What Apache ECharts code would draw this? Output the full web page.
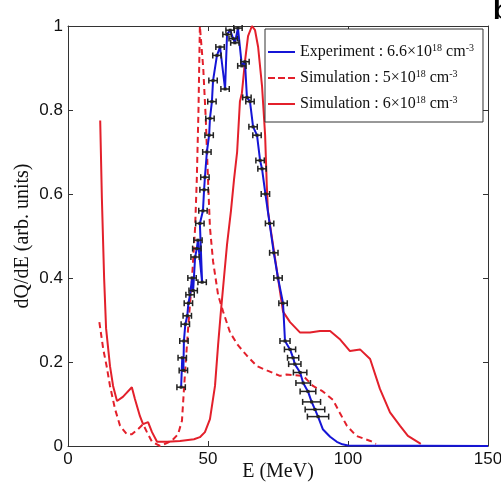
<!DOCTYPE html>
<html><head><meta charset="utf-8">
<script src="https://cdn.jsdelivr.net/npm/echarts@6/dist/echarts.min.js"></script>
<style>html,body{margin:0;padding:0;background:#fff}#c{width:501px;height:491px}</style>
</head><body><div id="c"></div>
<script>
// Experiment (blue line with horizontal error bars)
const expX = [40.4,40.8,41.2,41.4,41.9,42.6,43.0,43.6,44.3,44.7,45.4,46.0,46.4,47.9,47.1,48.2,48.6,48.9,49.6,50.4,50.7,51.4,51.8,53.2,54.3,56.1,56.8,57.9,59.0,59.6,60.7,62.1,63.2,63.9,65.0,66.1,67.5,68.6,69.3,70.5,72.0,73.5,75.0,76.8,77.5,79.3,80.4,81.0,82.9,84.0,85.7,87.0,88.2,89.3];
const expY = [0.14,0.21,0.18,0.25,0.29,0.31,0.34,0.36,0.40,0.37,0.45,0.47,0.49,0.39,0.53,0.56,0.61,0.64,0.70,0.74,0.78,0.82,0.87,0.93,0.95,0.85,0.98,0.99,0.97,0.96,0.995,0.905,0.915,0.83,0.82,0.76,0.74,0.68,0.66,0.60,0.53,0.46,0.40,0.34,0.25,0.23,0.21,0.195,0.175,0.15,0.13,0.105,0.087,0.07];
const expErr = [1.5,1.5,1.5,1.5,1.5,1.5,1.5,1.5,1.5,1.5,1.5,1.5,1.5,1.5,1.5,1.5,1.5,1.5,1.5,1.5,1.5,1.5,1.5,1.5,1.5,1.5,1.5,1.5,1.5,1.5,1.5,1.5,1.5,1.5,1.5,1.5,1.5,1.5,1.5,1.5,1.5,1.5,1.5,1.5,1.8,2.0,2.0,2.2,2.4,2.6,2.8,3.2,3.5,3.8];
// blue line tail beyond the last error bar
const expTailX = [91.0,93.6,96.0,98.0,100.0,150.0];
const expTailY = [0.04,0.022,0.01,0.004,0.001,0.0];

// Simulation 5e18 (red dashed)
const sim5X = [11.2,12.6,13.8,15.0,16.8,18.6,21.0,22.8,25.0,26.8,28.2,30.0,32.9,37.0,39.3,40.7,41.8,42.9,44.3,45.4,46.0,46.6,47.1,47.6,48.3,49.2,50.0,50.7,51.8,53.6,55.4,57.9,60.7,63.9,67.5,71.0,75.7,78.0,84.0,87.5,91.0,94.6,97.0,99.6,103.0,108.0,110.0];
const sim5Y = [0.295,0.23,0.19,0.143,0.088,0.048,0.028,0.028,0.04,0.052,0.033,0.01,0.0,0.012,0.028,0.06,0.175,0.28,0.40,0.52,0.635,0.80,1.0,1.0,0.90,0.78,0.635,0.52,0.44,0.36,0.32,0.27,0.24,0.215,0.19,0.18,0.167,0.17,0.167,0.143,0.13,0.11,0.08,0.048,0.024,0.012,0.005];

// Simulation 6e18 (red solid)
const sim6X = [11.5,12.1,12.9,13.6,15.0,16.1,17.5,19.6,22.8,23.9,25.7,26.8,28.6,30.0,31.8,35.4,40.0,45.0,47.1,48.9,50.7,52.5,53.6,54.6,55.7,56.8,58.2,59.3,60.4,61.4,62.1,63.2,64.3,65.7,66.8,67.9,69.3,70.4,71.0,71.4,73.2,75.0,76.8,79.3,82.9,86.4,90.0,93.6,97.0,100.7,104.3,107.9,111.4,115.0,118.6,121.4,126.0];
const sim6Y = [0.775,0.59,0.40,0.28,0.19,0.143,0.107,0.117,0.14,0.112,0.071,0.052,0.057,0.033,0.01,0.01,0.012,0.016,0.021,0.033,0.064,0.143,0.24,0.32,0.40,0.48,0.56,0.635,0.70,0.82,0.84,0.915,0.976,1.0,0.99,0.95,0.857,0.74,0.62,0.56,0.48,0.40,0.32,0.295,0.27,0.27,0.274,0.274,0.255,0.226,0.23,0.207,0.136,0.08,0.048,0.024,0.005];

const xTicks = [0,50,100,150];
const yTicks = [0,0.2,0.4,0.6,0.8,1];

const zip = (a,b)=>a.map((v,i)=>[v,b[i]]);
const chart = echarts.init(document.getElementById('c'), null, {renderer:'canvas'});
const axisCol = '#333';
const sans = '"Liberation Sans", Arial, sans-serif';
const serif = '"Liberation Serif", "Times New Roman", serif';
const rich = {
  t:{fontFamily:serif,fontSize:16,color:'#111'},
  s:{fontFamily:serif,fontSize:10,color:'#111',verticalAlign:'top',padding:[0,0,8,0]}
};
const legendText = {
  exp:'{t|Experiment : 6.6×10}{s|18}{t| cm}{s|-3}',
  sim5:'{t|Simulation : 5×10}{s|18}{t| cm}{s|-3}',
  sim6:'{t|Simulation : 6×10}{s|18}{t| cm}{s|-3}'
};
const RED = '#e3202b', BLUE = '#1515d6';
const frameAxis = {
  axisLine:{show:true,onZero:false,lineStyle:{color:axisCol,width:1}},
  axisTick:{show:true,inside:true,length:5,lineStyle:{color:axisCol}},
  axisLabel:{show:false},splitLine:{show:false}
};
chart.setOption({
  animation:false,
  backgroundColor:'#fff',
  grid:{left:68,right:13,top:26,bottom:45,containLabel:false,outerBoundsMode:'none'},
  xAxis:[{
    type:'value',min:xTicks[0],max:xTicks[xTicks.length-1],interval:50,
    name:'E (MeV)',nameLocation:'middle',nameGap:16,nameMoveOverlap:false,
    nameTextStyle:{fontFamily:serif,fontSize:20,color:'#111'},
    axisLine:{show:true,onZero:false,lineStyle:{color:axisCol,width:1}},
    axisTick:{show:true,inside:true,length:5,lineStyle:{color:axisCol}},
    axisLabel:{fontFamily:sans,fontSize:17,color:'#111',margin:5},
    splitLine:{show:false}
  },Object.assign({type:'value',position:'top',min:0,max:150,interval:50},frameAxis)],
  yAxis:[{
    type:'value',min:0,max:1,interval:0.2,
    name:'dQ/dE (arb. units)',nameLocation:'middle',nameGap:35,nameMoveOverlap:false,
    nameTextStyle:{fontFamily:serif,fontSize:20,color:'#111'},
    axisLine:{show:true,onZero:false,lineStyle:{color:axisCol,width:1}},
    axisTick:{show:true,inside:true,length:5,lineStyle:{color:axisCol}},
    axisLabel:{fontFamily:sans,fontSize:17,color:'#111',margin:5,
      formatter:v=>String(Math.round(v*10)/10)},
    splitLine:{show:false}
  },Object.assign({type:'value',position:'right',min:0,max:1,interval:0.2},frameAxis)],
  legend:{
    orient:'vertical',left:265,top:29,
    backgroundColor:'#fff',borderColor:'#333',borderWidth:1,
    padding:[14,9,9,3],itemGap:8,itemWidth:27,itemHeight:2,
    data:[
      {name:'exp',icon:'rect',itemStyle:{color:BLUE}},
      {name:'sim5',icon:'path://M0,0h7v2h-7z M10,0h7v2h-7z M20,0h7v2h-7z',itemStyle:{color:RED}},
      {name:'sim6',icon:'rect',itemStyle:{color:RED}}
    ],
    formatter:n=>legendText[n],
    textStyle:{rich:rich,lineHeight:18}
  },
  series:[
    {name:'sim5',type:'line',data:zip(sim5X,sim5Y),showSymbol:false,symbol:'none',
      lineStyle:{color:RED,width:2,type:[6,4]},itemStyle:{color:RED},z:3},
    {name:'sim6',type:'line',data:zip(sim6X,sim6Y),showSymbol:false,symbol:'none',
      lineStyle:{color:RED,width:2},itemStyle:{color:RED},z:3},
    {name:'exp',type:'line',data:zip(expX,expY).concat(zip(expTailX,expTailY)),showSymbol:false,symbol:'none',
      lineStyle:{color:BLUE,width:2},itemStyle:{color:BLUE},z:4},
    {name:'experr',type:'custom',z:5,
      data:expX.map((x,i)=>[x,expY[i],expErr[i]]),
      renderItem:function(params,api){
        const x=api.value(0),y=api.value(1),e=api.value(2);
        const a=api.coord([x-e,y]),b=api.coord([x+e,y]);
        const h=3, st={stroke:'#222',lineWidth:1.5};
        return {type:'group',children:[
          {type:'line',shape:{x1:a[0],y1:a[1],x2:b[0],y2:b[1]},style:st},
          {type:'line',shape:{x1:a[0],y1:a[1]-h,x2:a[0],y2:a[1]+h},style:st},
          {type:'line',shape:{x1:b[0],y1:b[1]-h,x2:b[0],y2:b[1]+h},style:st},
          {type:'rect',shape:{x:(a[0]+b[0])/2-1.5,y:a[1]-1.5,width:3,height:3},style:{fill:'#222'}}
        ]};
      }
    }
  ],
  graphic:[{type:'text',left:493,top:-3,style:{text:'b',font:'bold 28px "Liberation Sans", Arial, sans-serif',fill:'#000'}}]
});
</script></body></html>
